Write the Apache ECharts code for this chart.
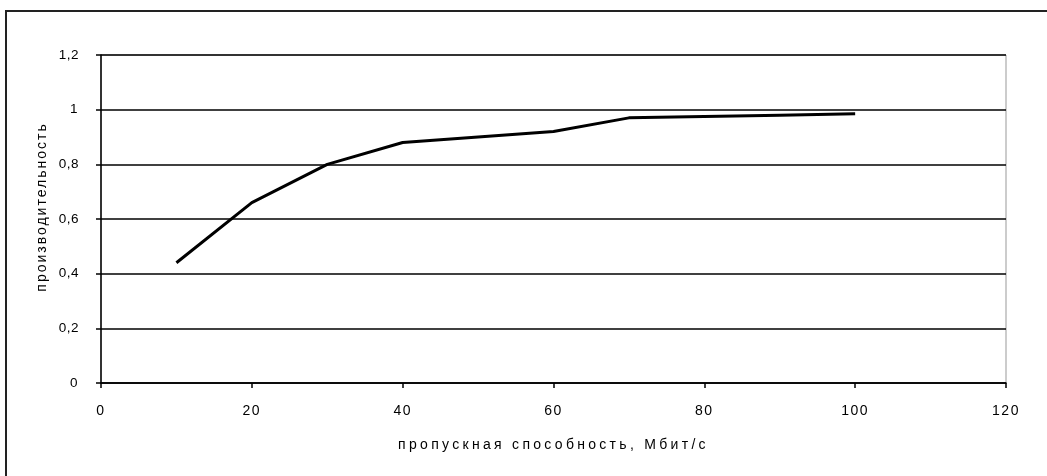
<!DOCTYPE html>
<html>
<head>
<meta charset="utf-8">
<script src="https://cdn.jsdelivr.net/npm/echarts@6/dist/echarts.min.js"></script>
<style>html,body{margin:0;padding:0;background:#fff}#c{width:1047px;height:476px}</style>
</head>
<body>
<div id="c"></div>
<script>
const xValues = [10, 20, 30, 40, 50, 60, 70, 80, 90, 100];
const yValues = [0.44, 0.66, 0.80, 0.88, 0.90, 0.92, 0.97, 0.975, 0.98, 0.985];
const xAxisTitle = 'пропускная способность, Мбит/с';
const yAxisTitle = 'производительность';

// letter spacing to imitate the wide bitmap font of the original
(function () {
  const P = CanvasRenderingContext2D.prototype;
  const orig = P.fillText;
  P.fillText = function (s, x, y, w) {
    let ls = '0px';
    if (s === xAxisTitle) ls = '3.3px';
    else if (s === yAxisTitle) ls = '2px';
    else if (/^[0-9]+$/.test(s)) ls = '1.5px';
    else if (/^[0-9,]+$/.test(s)) ls = '0.5px';
    const prev = this.letterSpacing;
    if (prev !== undefined) this.letterSpacing = ls;
    const r = w === undefined ? orig.call(this, s, x, y) : orig.call(this, s, x, y, w);
    if (prev !== undefined) this.letterSpacing = prev;
    return r;
  };
})();

const chart = echarts.init(document.getElementById('c'), null, {renderer: 'canvas'});
const font = 'Liberation Sans, Arial, sans-serif';
chart.setOption({
  animation: false,
  backgroundColor: '#fff',
  graphic: [{
    type: 'rect', z: 100, silent: true,
    shape: {x: 6, y: 11, width: 1100, height: 500},
    style: {fill: 'none', stroke: '#222', lineWidth: 2}
  }],
  grid: {left: 101, right: 41, top: 55, bottom: 93, show: true, borderColor: '#999', borderWidth: 1},
  xAxis: {
    type: 'value', min: 0, max: 120, interval: 20,
    name: xAxisTitle, nameLocation: 'middle', nameGap: 55,
    nameTextStyle: {fontFamily: font, fontSize: 14, color: '#000'},
    axisLine: {show: true, onZero: false, lineStyle: {color: '#000', width: 1.5}},
    axisTick: {show: true, length: 5, lineStyle: {color: '#000', width: 1.5}},
    axisLabel: {fontFamily: font, fontSize: 14, color: '#000', margin: 21},
    splitLine: {show: false}
  },
  yAxis: {
    type: 'value', min: 0, max: 1.2, interval: 0.2,
    name: yAxisTitle, nameLocation: 'middle', nameGap: 51,
    nameTextStyle: {fontFamily: font, fontSize: 14, color: '#000', padding: [0, 0, 0, 24]},
    axisLine: {show: true, lineStyle: {color: '#000', width: 1.5}},
    axisTick: {show: true, length: 5, lineStyle: {color: '#000', width: 1.5}},
    axisLabel: {fontFamily: font, fontSize: 13.5, color: '#000', margin: 22,
      formatter: v => String(Math.round(v * 10) / 10).replace('.', ',')},
    splitLine: {show: true, lineStyle: {color: '#000', width: 1.5}}
  },
  series: [{
    type: 'line',
    data: xValues.map((x, i) => [x, yValues[i]]),
    showSymbol: false,
    lineStyle: {color: '#000', width: 3},
    z: 10
  }]
});
</script>
</body>
</html>
